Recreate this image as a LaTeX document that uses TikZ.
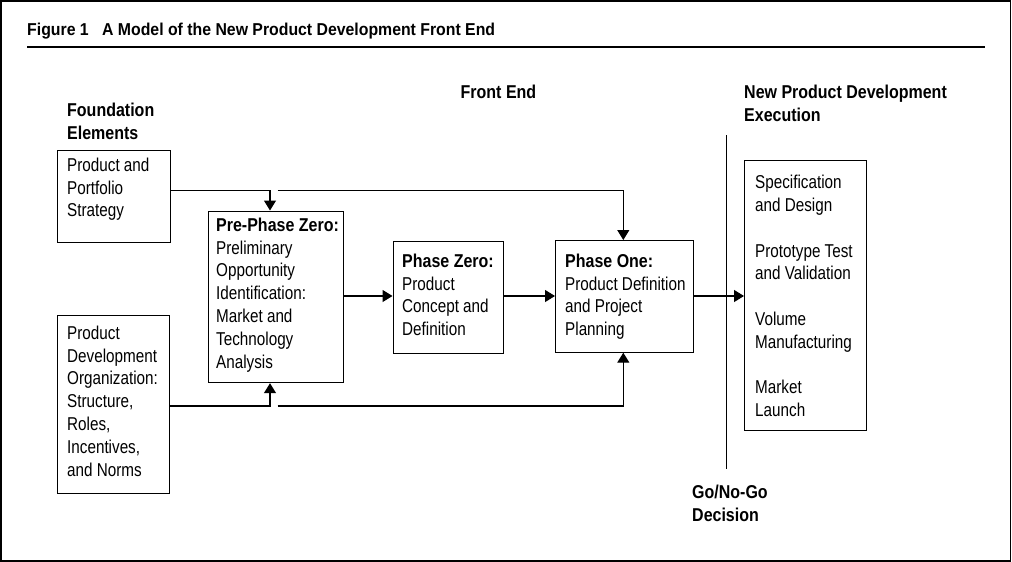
\documentclass[tikz,border=0pt]{standalone}
\usepackage{fontspec}
\setmainfont{Liberation Sans}[FakeStretch=0.82]
\newfontfamily\hfont{Liberation Sans}[FakeStretch=0.86]
\newfontfamily\tfont{Liberation Sans}[FakeStretch=0.92]
\usetikzlibrary{arrows.meta}
\newcommand\hb[1]{{\hfont\bfseries #1}}
\begin{document}
\begin{tikzpicture}[x=1pt,y=-1pt,
  frame/.style={draw, line width=1.2pt},
  box/.style={draw, line width=1.2pt, inner sep=0pt, anchor=north west},
  txt/.style={anchor=north west, inner sep=0pt, align=left, font=\fontsize{18.6}{22.8}\selectfont},
  head/.style={anchor=north west, inner sep=0pt, align=left, font=\fontsize{18.6}{22.8}\selectfont\hfont\bfseries},
  conn/.style={line width=1.2pt},
  arr/.style={line width=1.2pt, -{Triangle[length=10pt,width=12pt]}}
]
\useasboundingbox (0,0) rectangle (1012,562);
\draw[frame] (1,1) rectangle (1010.5,561);

% title
\node[anchor=north west, inner sep=0pt, font=\fontsize{17.2}{20}\selectfont\tfont\bfseries] (title) at (27,22.7) {Figure 1\hspace{9pt} A Model of the New Product Development Front End};
\draw[line width=1.2pt] (27,47) -- (985,47);

% headings
\node[head] (hfound) at (67,103.3) {Foundation\\Elements};
\node[head] (hfront) at (460.5,84.5) {Front End};
\node[head] (hexec) at (744,85) {New Product Development\\Execution};
\node[head] (hgo) at (692,485) {Go/No-Go\\Decision};

% boxes
\node[box, minimum width=113pt, minimum height=92pt] (b1) at (57,150) {};
\node[box, minimum width=112pt, minimum height=178pt] (b2) at (57,315) {};
\node[box, minimum width=134.5pt, minimum height=171.5pt] (b3) at (208,210.5) {};
\node[box, minimum width=110pt, minimum height=112pt] (b4) at (392.5,240.5) {};
\node[box, minimum width=137.5pt, minimum height=111.5pt] (b5) at (555,240) {};
\node[box, minimum width=121.5pt, minimum height=270pt] (b6) at (744,160) {};

% box texts
\node[txt] (t1) at (67,157.7) {Product and\\Portfolio\\Strategy};
\node[txt] (t2) at (67,325.7) {Product\\Development\\Organization:\\Structure,\\Roles,\\Incentives,\\and Norms};
\node[txt] (t3) at (216,217.7) {\hb{Pre-Phase Zero:}\\Preliminary\\Opportunity\\Identification:\\Market and\\Technology\\Analysis};
\node[txt] (t4) at (402,253.7) {\hb{Phase Zero:}\\Product\\Concept and\\Definition};
\node[txt] (t5) at (565,253.7) {\hb{Phase One:}\\Product Definition\\and Project\\Planning};
\node[txt] (t6) at (755,175) {Specification\\and Design\\[22.8pt]Prototype Test\\and Validation\\[22.8pt]Volume\\Manufacturing\\[22.8pt]Market\\Launch};

% go/no-go line
\coordinate (gtop) at (726.7,135);
\coordinate (gbot) at (726.7,469);
\draw[conn] (gtop) -- (gbot);

% connectors
\coordinate (j1) at (270,190.7);
\draw[arr] (b1.east |- j1) -- (j1) -- (j1 |- b3.north);
\coordinate (k1) at (277.7,190.7);
\coordinate (k2) at (623.3,190.7);
\draw[arr] (k1) -- (k2) -- (k2 |- b5.north);
\coordinate (j2) at (270,406);
\draw[arr] (b2.east |- j2) -- (j2) -- (j2 |- b3.south);
\coordinate (k3) at (277.7,406);
\coordinate (k4) at (623.3,406);
\draw[arr] (k3) -- (k4) -- (k4 |- b5.south);
\coordinate (m) at (0,296);
\draw[arr] (b3.east |- m) -- (b4.west |- m);
\draw[arr] (b4.east |- m) -- (b5.west |- m);
\draw[arr] (b5.east |- m) -- (b6.west |- m);
\end{tikzpicture}
\end{document}
